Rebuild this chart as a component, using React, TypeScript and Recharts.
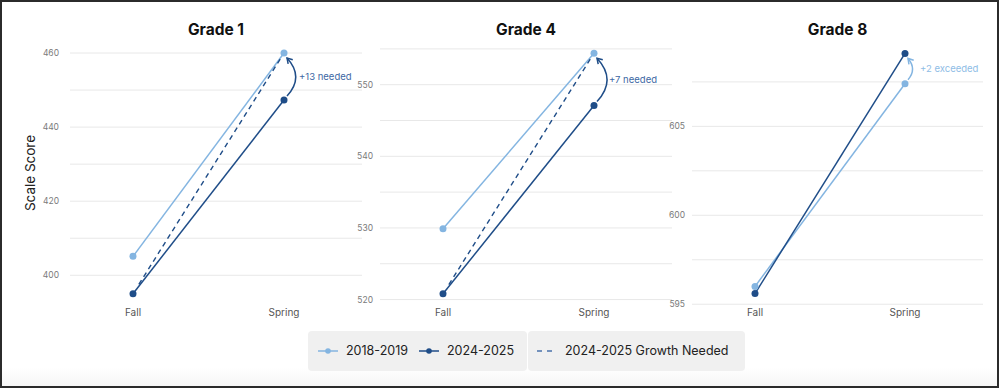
import { CartesianGrid, Line, LineChart, ReferenceLine, XAxis, YAxis } from "recharts";

const PERIODS = ["Fall", "Spring"];

const G1_2018 = [405.1, 460];
const G1_2024 = [395, 447.3];
const G4_2018 = [529.9, 554.4];
const G4_2024 = [520.8, 547.1];
const G8_2018 = [596.0, 607.4];
const G8_2024 = [595.6, 609.1];

const G1_TICKS = [400, 410, 420, 430, 440, 450, 460];
const G4_TICKS = [520, 525, 530, 535, 540, 545, 550, 555];
const G8_TICKS = [595, 597.5, 600, 602.5, 605, 607.5];
const G1_LABELS = [400, 420, 440, 460];
const G4_LABELS = [520, 530, 540, 550];
const G8_LABELS = [595, 600, 605];

const SERIES = ["2018-2019", "2024-2025", "2024-2025 Growth Needed"];

const LIGHT = "#84b5e1";
const DARK = "#1f4d88";
const NOTE_DARK = "#3d68a4";
const FONT = "Inter, 'Noto Sans', sans-serif";

function CurvedArrow(p: any) {
  const { x1, y1, x2, y2, color, note } = p;
  if (x1 == null || y1 == null) return null;
  const sx = x1 + 3;
  const sy = y1 + (y2 < y1 ? -4 : 4);
  const ex = x2 + 3;
  const ey = y2 + (y2 < y1 ? 5 : -5);
  const bulge = Math.abs(y1 - y2) * 0.25;
  const cx = x1 + 2 * bulge - 3;
  const cy = (sy + ey) / 2;
  const a = Math.atan2(ey - cy, ex - cx);
  const len = 6;
  const w1x = ex - len * Math.cos(a - 0.55);
  const w1y = ey - len * Math.sin(a - 0.55);
  const w2x = ex - len * Math.cos(a + 0.55);
  const w2y = ey - len * Math.sin(a + 0.55);
  return (
    <g>
      <path d={`M${sx},${sy} Q${cx},${cy} ${ex},${ey}`} fill="none" stroke={color} strokeWidth={1.5} />
      <path d={`M${w1x},${w1y} L${ex},${ey} L${w2x},${w2y}`} fill="none" stroke={color} strokeWidth={1.5} />
      <text x={x1 + 15} y={(y1 + y2) / 2} dy="0.35em" fill={color === LIGHT ? "#8fbde6" : NOTE_DARK} fontSize={9.5}>
        {note}
      </text>
    </g>
  );
}

function NeededLine(p: any) {
  const { x1, y1, x2, y2 } = p;
  if (x1 == null || y1 == null) return null;
  const dx = x2 - x1;
  const dy = y2 - y1;
  const d = Math.hypot(dx, dy);
  const ux = dx / d;
  const uy = dy / d;
  return (
    <line
      x1={x1 + ux * 11}
      y1={y1 + uy * 11}
      x2={x2 - ux * 6}
      y2={y2 - uy * 6}
      stroke={DARK}
      strokeWidth={1.4}
      strokeDasharray="5 4"
    />
  );
}

type PanelProps = {
  title: string;
  base: number[];
  cur: number[];
  ticks: number[];
  labels: number[];
  domain: [number, number];
  note: string;
  left: number;
  width: number;
  yWidth: number;
  gap: number;
};

const EXTRA = 24;

function Panel({ title, base, cur, ticks, labels, domain, note, left, width, yWidth, gap }: PanelProps) {
  const data = PERIODS.map((p, i) => ({ period: p, base: base[i], cur: cur[i] }));
  const exceeded = cur[1] > base[1];
  const from = exceeded ? base[1] : cur[1];
  const to = exceeded ? cur[1] : base[1];
  return (
    <div style={{ position: "absolute", left, top: 0 }}>
      <div
        style={{
          position: "absolute",
          left: yWidth,
          width: width - yWidth,
          top: 20,
          textAlign: "center",
          fontWeight: 700,
          fontSize: 15.5,
          color: "#111",
          lineHeight: "20px",
        }}
      >
        {title}
      </div>
      <LineChart width={width + EXTRA} height={326} data={data} margin={{ top: 41, right: EXTRA, bottom: 0, left: 0 }}>
        <CartesianGrid vertical={false} stroke="#e8e8e8" syncWithTicks />
        <XAxis
          dataKey="period"
          axisLine={false}
          tickLine={false}
          tickSize={0}
          tickMargin={3}
          height={20}
          padding={{ left: 63, right: 78 }}
          tick={{ fill: "#555", fontSize: 10 }}
        />
        <YAxis
          type="number"
          domain={domain}
          allowDataOverflow
          ticks={ticks}
          width={yWidth}
          axisLine={false}
          tickLine={false}
          tickSize={0}
          tickMargin={gap}
          tick={{ fill: "#7a7a7a", fontSize: 8.5 }}
          tickFormatter={(v: number) => (labels.includes(v) ? String(v) : "")}
        />
        <Line
          dataKey="base"
          stroke={LIGHT}
          strokeWidth={1.5}
          dot={{ r: 3.5, fill: LIGHT, stroke: LIGHT, strokeWidth: 0 }}
          activeDot={false}
          isAnimationActive={false}
        />
        {!exceeded && (
          <ReferenceLine
            segment={[
              { x: "Fall", y: cur[0] },
              { x: "Spring", y: base[1] },
            ]}
            ifOverflow="visible"
            shape={(p: any) => <NeededLine {...p} />}
          />
        )}
        <Line
          dataKey="cur"
          stroke={DARK}
          strokeWidth={1.5}
          dot={{ r: 3.5, fill: DARK, stroke: DARK, strokeWidth: 0 }}
          activeDot={false}
          isAnimationActive={false}
        />
        <ReferenceLine
          segment={[
            { x: "Spring", y: from },
            { x: "Spring", y: to },
          ]}
          ifOverflow="visible"
          shape={(p: any) => <CurvedArrow {...p} color={exceeded ? LIGHT : DARK} note={note} />}
        />
      </LineChart>
    </div>
  );
}

function LegendIcon({ color, dashed }: { color: string; dashed?: boolean }) {
  return (
    <svg width={20} height={10} style={{ display: "block" }}>
      {dashed ? (
        <line x1={0} y1={5} x2={16} y2={5} stroke={color} strokeWidth={1.5} strokeDasharray="5 5" />
      ) : (
        <>
          <line x1={0} y1={5} x2={20} y2={5} stroke={color} strokeWidth={1.5} />
          <circle cx={10} cy={5} r={2.8} fill={color} />
        </>
      )}
    </svg>
  );
}

export default function App() {
  return (
    <div
      style={{
        position: "absolute",
        left: 0,
        top: 0,
        width: 999,
        height: 388,
        background: "#fff",
        fontFamily: FONT,
        overflow: "hidden",
      }}
    >
      <div
        style={{
          position: "absolute",
          left: 0,
          top: 368,
          width: 999,
          height: 20,
          background: "linear-gradient(#ffffff, #f5f5f5)",
        }}
      />
      <div
        style={{
          position: "absolute",
          left: 30,
          top: 173,
          transform: "translate(-50%, -50%) rotate(-90deg)",
          fontSize: 13.5,
          color: "#222",
          whiteSpace: "nowrap",
        }}
      >
        Scale Score
      </div>
      <Panel
        title="Grade 1"
        base={G1_2018}
        cur={G1_2024}
        ticks={G1_TICKS}
        labels={G1_LABELS}
        domain={[391.7, 463.25]}
        note="+13 needed"
        left={0}
        width={362}
        yWidth={70}
        gap={11}
      />
      <Panel
        title="Grade 4"
        base={G4_2018}
        cur={G4_2024}
        ticks={G4_TICKS}
        labels={G4_LABELS}
        domain={[519.1, 556.1]}
        note="+7 needed"
        left={330}
        width={342}
        yWidth={50}
        gap={7}
      />
      <Panel
        title="Grade 8"
        base={G8_2018}
        cur={G8_2024}
        ticks={G8_TICKS}
        labels={G8_LABELS}
        domain={[594.9, 609.8]}
        note="+2 exceeded"
        left={642}
        width={341}
        yWidth={50}
        gap={7}
      />
      <div
        style={{
          position: "absolute",
          left: 308,
          top: 331,
          width: 219,
          height: 40,
          background: "#f0f0f0",
          borderRadius: 4,
        }}
      />
      <div
        style={{
          position: "absolute",
          left: 528,
          top: 331,
          width: 217,
          height: 40,
          background: "#f0f0f0",
          borderRadius: 4,
        }}
      />
      {[
        { x: 318, tx: 346, color: LIGHT, dashed: false, label: SERIES[0] },
        { x: 419, tx: 447, color: DARK, dashed: false, label: SERIES[1] },
        { x: 537, tx: 565, color: "#4a72ab", dashed: true, label: SERIES[2] },
      ].map((it) => (
        <div key={it.label}>
          <div style={{ position: "absolute", left: it.x, top: 346 }}>
            <LegendIcon color={it.color} dashed={it.dashed} />
          </div>
          <div
            style={{
              position: "absolute",
              left: it.tx,
              top: 342,
              fontSize: 12.5,
              lineHeight: "18px",
              color: "#222",
              whiteSpace: "nowrap",
            }}
          >
            {it.label}
          </div>
        </div>
      ))}
      <div
        style={{
          position: "absolute",
          left: 0,
          top: 0,
          width: 999,
          height: 388,
          boxSizing: "border-box",
          border: "2px solid #2b2b2b",
          pointerEvents: "none",
        }}
      />
    </div>
  );
}
